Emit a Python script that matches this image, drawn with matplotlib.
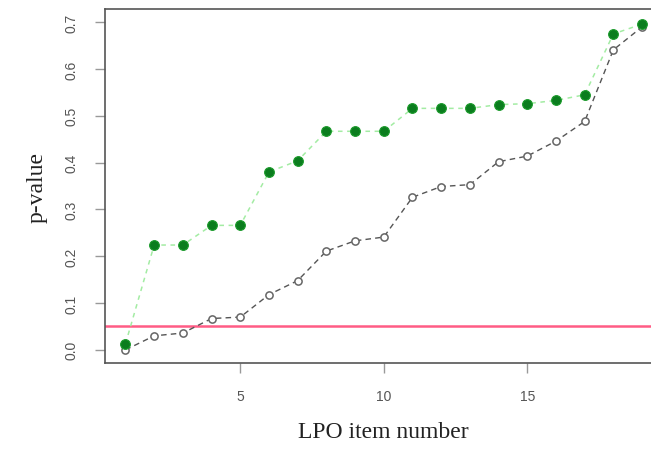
import numpy as np
import matplotlib.pyplot as plt

items = np.arange(1, 20)

# adjusted p-values (filled green) and raw p-values (open circles)
p_adjusted = [0.013, 0.224, 0.224, 0.266, 0.266, 0.380, 0.404, 0.467, 0.467, 0.467,
              0.516, 0.516, 0.516, 0.524, 0.526, 0.533, 0.545, 0.675, 0.696]
p_raw = [0.000, 0.030, 0.036, 0.067, 0.070, 0.118, 0.148, 0.211, 0.233, 0.241,
         0.326, 0.349, 0.353, 0.402, 0.414, 0.446, 0.488, 0.641, 0.690]
alpha = 0.05

x_ticks = [5, 10, 15]
y_ticks = [0.0, 0.1, 0.2, 0.3, 0.4, 0.5, 0.6, 0.7]

fig = plt.figure(figsize=(6.51, 4.56), dpi=100)
ax = fig.add_axes([0.161, 0.2018, 0.857, 0.776])

ax.axhline(alpha, color='#ff5c85', lw=1.8, zorder=1)

ax.plot(items, p_raw, color='#555555', lw=1.0, ls=(0, (4, 3)),
        marker='o', ms=5.2, mfc='white', mec='#666666', mew=1.1, zorder=2)
ax.plot(items, p_adjusted, color='#a3eca3', lw=1.1, ls=(0, (3, 3)),
        marker='o', ms=7.0, mfc='#0b7d1e', mec='#1a9a2a', mew=0.8, zorder=3)

ax.set_xlim(0.28, 19.72)
ax.set_ylim(-0.028, 0.728)

ax.set_xticks(x_ticks)
ax.set_yticks(y_ticks)
ax.set_yticklabels([f'{v:.1f}' for v in y_ticks], rotation=90, va='center')
ax.tick_params(direction='out', length=7, width=1.0, color='#999999',
               labelcolor='#555555', labelsize=10, pad=12)
for label in ax.get_xticklabels() + ax.get_yticklabels():
    label.set_family('Liberation Sans')

for side in ax.spines.values():
    side.set_color('#555555')
    side.set_linewidth(1.2)

ax.set_xlabel('LPO item number', family='Liberation Serif', fontsize=17,
              color='#222222', labelpad=13)
ax.set_ylabel('p-value', family='Liberation Serif', fontsize=17,
              color='#222222', labelpad=12)

fig.savefig('out.png', dpi=100)
